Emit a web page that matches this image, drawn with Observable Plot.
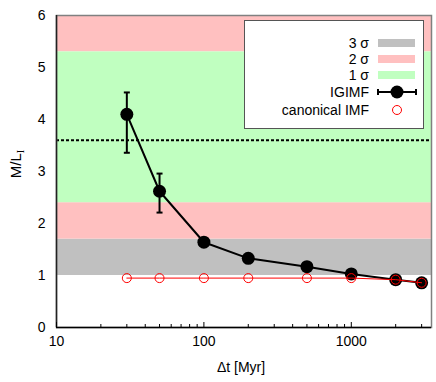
<!DOCTYPE html>
<html>
<head>
<meta charset="utf-8">
<script src="https://cdn.jsdelivr.net/npm/d3@7"></script>
<script src="https://cdn.jsdelivr.net/npm/@observablehq/plot@0.6"></script>
<style>
  html, body { margin: 0; padding: 0; background: #fff; }
  #wrap { position: relative; width: 436px; height: 382px; font-family: "Liberation Sans", Arial, sans-serif; }
  #legend { position: absolute; left: 244px; top: 20px; width: 178px; height: 107px; background: #fff; border: 1px solid #555; box-sizing: content-box; }
  .row { position: absolute; left: 0; width: 178px; height: 16px; font-size: 14px; line-height: 16px; }
  .lab { position: absolute; right: 54px; top: 0; white-space: nowrap; color: #000; }
  .sw { position: absolute; left: 133px; top: 4px; width: 37px; height: 8px; }
  .sws { position: absolute; left: 131px; top: -4px; }
  #ylab { position: absolute; left: 16px; top: 164px; transform: translate(-50%, -50%) rotate(-90deg); font-size: 15px; white-space: nowrap; }
  #ylab sub { font-size: 10px; vertical-align: -3px; font-family: "Liberation Serif", serif; }
</style>
</head>
<body>
<div id="wrap"></div>
<script>
// ---- data ----
const dt = [30, 50, 100, 200, 500, 1000, 2000, 3000];
const igimf = [4.10, 2.62, 1.64, 1.33, 1.17, 1.03, 0.92, 0.86];
const igimfLo = [3.36, 2.21, null, null, null, null, null, null];
const igimfHi = [4.52, 2.96, null, null, null, null, null, null];
const canonical = [0.95, 0.95, 0.95, 0.95, 0.95, 0.95, 0.92, 0.86];
const bandNames = ["3 σ", "2 σ", "2 σ", "1 σ"];
const bandLo = [1.0, 1.7, 5.3, 2.4];
const bandHi = [1.7, 2.4, 6.0, 5.3];
const bandColors = {"3 σ": "#c0c0c0", "2 σ": "#ffc0c0", "1 σ": "#c0ffc0"};
const observedML = [3.6];
const xMajor = [10, 100, 1000];
const xMinor = [20, 30, 40, 50, 60, 70, 80, 90, 200, 300, 400, 500, 600, 700, 800, 900, 2000, 3000];
const yTicks = [0, 1, 2, 3, 4, 5, 6];

const pts = dt.map((d, i) => ({dt: d, igimf: igimf[i], lo: igimfLo[i], hi: igimfHi[i], can: canonical[i]}));
const errs = pts.filter(d => d.lo != null);
const bands = bandNames.map((n, i) => ({name: n, lo: bandLo[i], hi: bandHi[i]}));

const cap = { draw(ctx, size) { const w = 3; ctx.moveTo(-w, 0); ctx.lineTo(w, 0); } };

const chart = Plot.plot({
  width: 436,
  height: 382,
  marginLeft: 56,
  marginRight: 5,
  marginTop: 15,
  marginBottom: 55,
  style: {fontFamily: '"Liberation Sans", Arial, sans-serif', fontSize: "14px", background: "#fff", overflow: "visible"},
  x: {type: "log", domain: [10, 3500]},
  y: {domain: [0, 6]},
  marks: [
    Plot.rect(bands, {y1: "lo", y2: "hi", fill: d => bandColors[d.name]}),
    Plot.ruleY(observedML, {stroke: "#000", strokeWidth: 2, strokeDasharray: "3,2"}),
    Plot.frame({stroke: "#808080", strokeWidth: 1.5}),
    Plot.ruleY([0], {stroke: "#000", strokeWidth: 1.5}),
    Plot.ruleX([10], {stroke: "#222", strokeWidth: 1.5}),
    Plot.axisX(xMajor, {tickSize: -5, tickPadding: 14, tickFormat: d => String(d), fontSize: 14, label: null, stroke: "#000"}),
    Plot.axisX(xMinor, {tickSize: -3, tickFormat: () => "", label: null, stroke: "#000"}),
    Plot.axisY(yTicks, {tickSize: 0, tickPadding: 11, tickFormat: d => String(d), fontSize: 14, label: null}),
    Plot.line(pts, {x: "dt", y: "igimf", stroke: "#000", strokeWidth: 2}),
    Plot.ruleX(errs, {x: "dt", y1: "lo", y2: "hi", stroke: "#000", strokeWidth: 2}),
    Plot.dot(errs, {x: "dt", y: "lo", symbol: cap, stroke: "#000", strokeWidth: 2, r: 3}),
    Plot.dot(errs, {x: "dt", y: "hi", symbol: cap, stroke: "#000", strokeWidth: 2, r: 3}),
    Plot.dot(pts, {x: "dt", y: "igimf", fill: "#000", r: 6.5}),
    Plot.line(pts, {x: "dt", y: "can", stroke: "#ff0000", strokeWidth: 1}),
    Plot.dot(pts, {x: "dt", y: "can", stroke: "#ff0000", fill: "none", strokeWidth: 1, r: 4.5}),
    Plot.text(["Δt [Myr]"], {frameAnchor: "bottom", dy: 44, dx: -3, fontSize: 14, fill: "#000"})
  ]
});

const wrap = document.getElementById("wrap");
wrap.appendChild(chart);

// y label
const yl = document.createElement("div");
yl.id = "ylab";
yl.innerHTML = "M/L<sub>I</sub>";
wrap.appendChild(yl);

// legend
const lg = document.createElement("div");
lg.id = "legend";
const rows = [
  {label: "3 σ", top: 14, kind: "band", color: bandColors["3 σ"]},
  {label: "2 σ", top: 30, kind: "band", color: bandColors["2 σ"]},
  {label: "1 σ", top: 46, kind: "band", color: bandColors["1 σ"]},
  {label: "IGIMF", top: 63, kind: "igimf"},
  {label: "canonical IMF", top: 81, kind: "can"}
];
for (const r of rows) {
  const row = document.createElement("div");
  row.className = "row";
  row.style.top = r.top + "px";
  const t = document.createElement("span");
  t.className = "lab";
  t.textContent = r.label;
  row.appendChild(t);
  if (r.kind === "band") {
    const s = document.createElement("div");
    s.className = "sw";
    s.style.background = r.color;
    row.appendChild(s);
  } else if (r.kind === "igimf") {
    const s = document.createElementNS("http://www.w3.org/2000/svg", "svg");
    s.setAttribute("width", "42"); s.setAttribute("height", "24");
    s.setAttribute("class", "sws");
    s.innerHTML = '<line x1="2" x2="40" y1="12" y2="12" stroke="#000" stroke-width="2"/>' +
      '<line x1="2" x2="2" y1="9" y2="15" stroke="#000" stroke-width="2"/>' +
      '<line x1="40" x2="40" y1="9" y2="15" stroke="#000" stroke-width="2"/>' +
      '<circle cx="21" cy="12" r="6.5" fill="#000"/>';
    row.appendChild(s);
  } else {
    const s = document.createElementNS("http://www.w3.org/2000/svg", "svg");
    s.setAttribute("width", "42"); s.setAttribute("height", "24");
    s.setAttribute("class", "sws");
    s.innerHTML = '<circle cx="21" cy="12" r="4.5" fill="none" stroke="#ff0000" stroke-width="1"/>';
    row.appendChild(s);
  }
  lg.appendChild(row);
}
wrap.appendChild(lg);
</script>
</body>
</html>
